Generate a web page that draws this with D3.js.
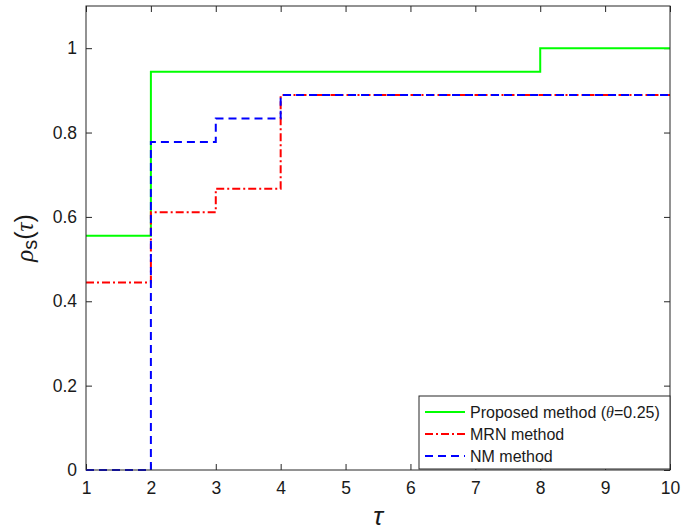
<!DOCTYPE html>
<html>
<head>
<meta charset="utf-8">
<script src="https://cdn.jsdelivr.net/npm/d3@7"></script>
<style>
  body { margin: 0; background: #fff; }
  svg text { font-family: "Liberation Sans", Arial, sans-serif; fill: #1a1a1a; }
</style>
</head>
<body>
<svg id="chart" width="681" height="532"></svg>
<script>
//---- Data -------------------------------------------------------------------
var xTicks = [1, 2, 3, 4, 5, 6, 7, 8, 9, 10];
var yTicks = [0, 0.2, 0.4, 0.6, 0.8, 1];

// step functions: tau breakpoints and rho values
var propTau = [1, 2, 8, 10];
var propRho = [0.5556, 0.9444, 1, 1];
var mrnTau = [1, 2, 3, 4, 10];
var mrnRho = [0.4444, 0.6111, 0.6667, 0.8889, 0.8889];
var nmTau = [1, 2, 3, 4, 10];
var nmRho = [0, 0.7778, 0.8333, 0.8889, 0.8889];

var seriesNames = ["Proposed method (\u03b8=0.25)", "MRN method", "NM method"];

//---- Layout -----------------------------------------------------------------
var margin = { left: 86, top: 6, right: 11, bottom: 62 };
var W = 681, H = 532;
var width = W - margin.left - margin.right,
    height = H - margin.top - margin.bottom;

var svg = d3.select("#chart");
var g = svg.append("g").attr("transform", "translate(" + margin.left + "," + margin.top + ")");

var x = d3.scaleLinear().domain([1, 10]).range([0, width]);
var y = d3.scaleLinear().domain([0, 1.1]).range([height, 0]);

var axisColor = "#262626";

// axes with inward ticks
function styleAxis(sel) {
  sel.select(".domain").remove();
  sel.selectAll(".tick line").attr("stroke", axisColor);
  sel.selectAll(".tick text").attr("font-size", "17.5px").attr("fill", "#1a1a1a");
}

g.append("g")
  .attr("transform", "translate(0," + height + ")")
  .call(d3.axisBottom(x).tickValues(xTicks).tickSizeInner(-6).tickSizeOuter(0).tickPadding(12))
  .call(styleAxis);

g.append("g")
  .call(d3.axisLeft(y).tickValues(yTicks).tickSizeInner(-6).tickSizeOuter(0).tickPadding(9).tickFormat(d3.format("~g")))
  .call(styleAxis);

g.append("g")
  .call(d3.axisTop(x).tickValues(xTicks).tickSizeInner(-6).tickSizeOuter(0).tickFormat(""))
  .call(styleAxis);

g.append("g")
  .attr("transform", "translate(" + width + ",0)")
  .call(d3.axisRight(y).tickValues(yTicks).tickSizeInner(-6).tickSizeOuter(0).tickFormat(""))
  .call(styleAxis);

//---- Lines ------------------------------------------------------------------
var line = d3.line()
  .x(function (d) { return x(d[0]); })
  .y(function (d) { return y(d[1]); })
  .curve(d3.curveStepAfter);

var series = [
  { tau: propTau, rho: propRho, color: "#00ff00", dash: null },
  { tau: mrnTau, rho: mrnRho, color: "#ff0000", dash: "8,3,2,3" },
  { tau: nmTau, rho: nmRho, color: "#0000ff", dash: "8,5" }
];

series.forEach(function (s) {
  var pts = s.tau.map(function (t, i) { return [t, s.rho[i]]; });
  g.append("path")
    .datum(pts)
    .attr("d", line)
    .attr("fill", "none")
    .attr("stroke", s.color)
    .attr("stroke-width", 2)
    .attr("stroke-dasharray", s.dash);
});

// box
g.append("rect")
  .attr("width", width).attr("height", height)
  .attr("fill", "none").attr("stroke", axisColor).attr("stroke-width", 1);

//---- Legend -----------------------------------------------------------------
var lg = g.append("g").attr("transform", "translate(" + (419 - margin.left) + "," + (396 - margin.top) + ")");
lg.append("rect")
  .attr("width", 251).attr("height", 73)
  .attr("fill", "#fff").attr("stroke", axisColor).attr("stroke-width", 1);

series.forEach(function (s, i) {
  var yy = 16 + i * 22;
  lg.append("line")
    .attr("x1", 6).attr("x2", 46).attr("y1", yy).attr("y2", yy)
    .attr("stroke", s.color).attr("stroke-width", 2)
    .attr("stroke-dasharray", s.dash);
  var t = lg.append("text")
    .attr("x", 51).attr("y", yy + 6)
    .attr("font-size", "16px");
  if (i === 0) {
    t.append("tspan").text("Proposed method (");
    t.append("tspan").attr("font-style", "italic").attr("font-family", "Liberation Serif, serif").text("\u03b8");
    t.append("tspan").text("=0.25)");
  } else {
    t.text(seriesNames[i]);
  }
});

//---- Axis labels ------------------------------------------------------------
svg.append("text")
  .attr("x", margin.left + width / 2)
  .attr("y", 525)
  .attr("text-anchor", "middle")
  .attr("font-size", "26px")
  .attr("font-style", "italic")
  .attr("font-family", "Liberation Serif, serif")
  .text("\u03c4");

var yl = svg.append("text")
  .attr("transform", "translate(33," + (margin.top + height / 2) + ") rotate(-90)")
  .attr("text-anchor", "middle")
  .attr("font-size", "25px");
yl.append("tspan").attr("font-style", "italic").attr("font-family", "Liberation Serif, serif").text("\u03c1");
yl.append("tspan").attr("font-size", "20px").attr("dy", 4).text("s");
yl.append("tspan").attr("dy", -4).text("(");
yl.append("tspan").attr("font-style", "italic").attr("font-family", "Liberation Serif, serif").text("\u03c4");
yl.append("tspan").text(")");
</script>
</body>
</html>
